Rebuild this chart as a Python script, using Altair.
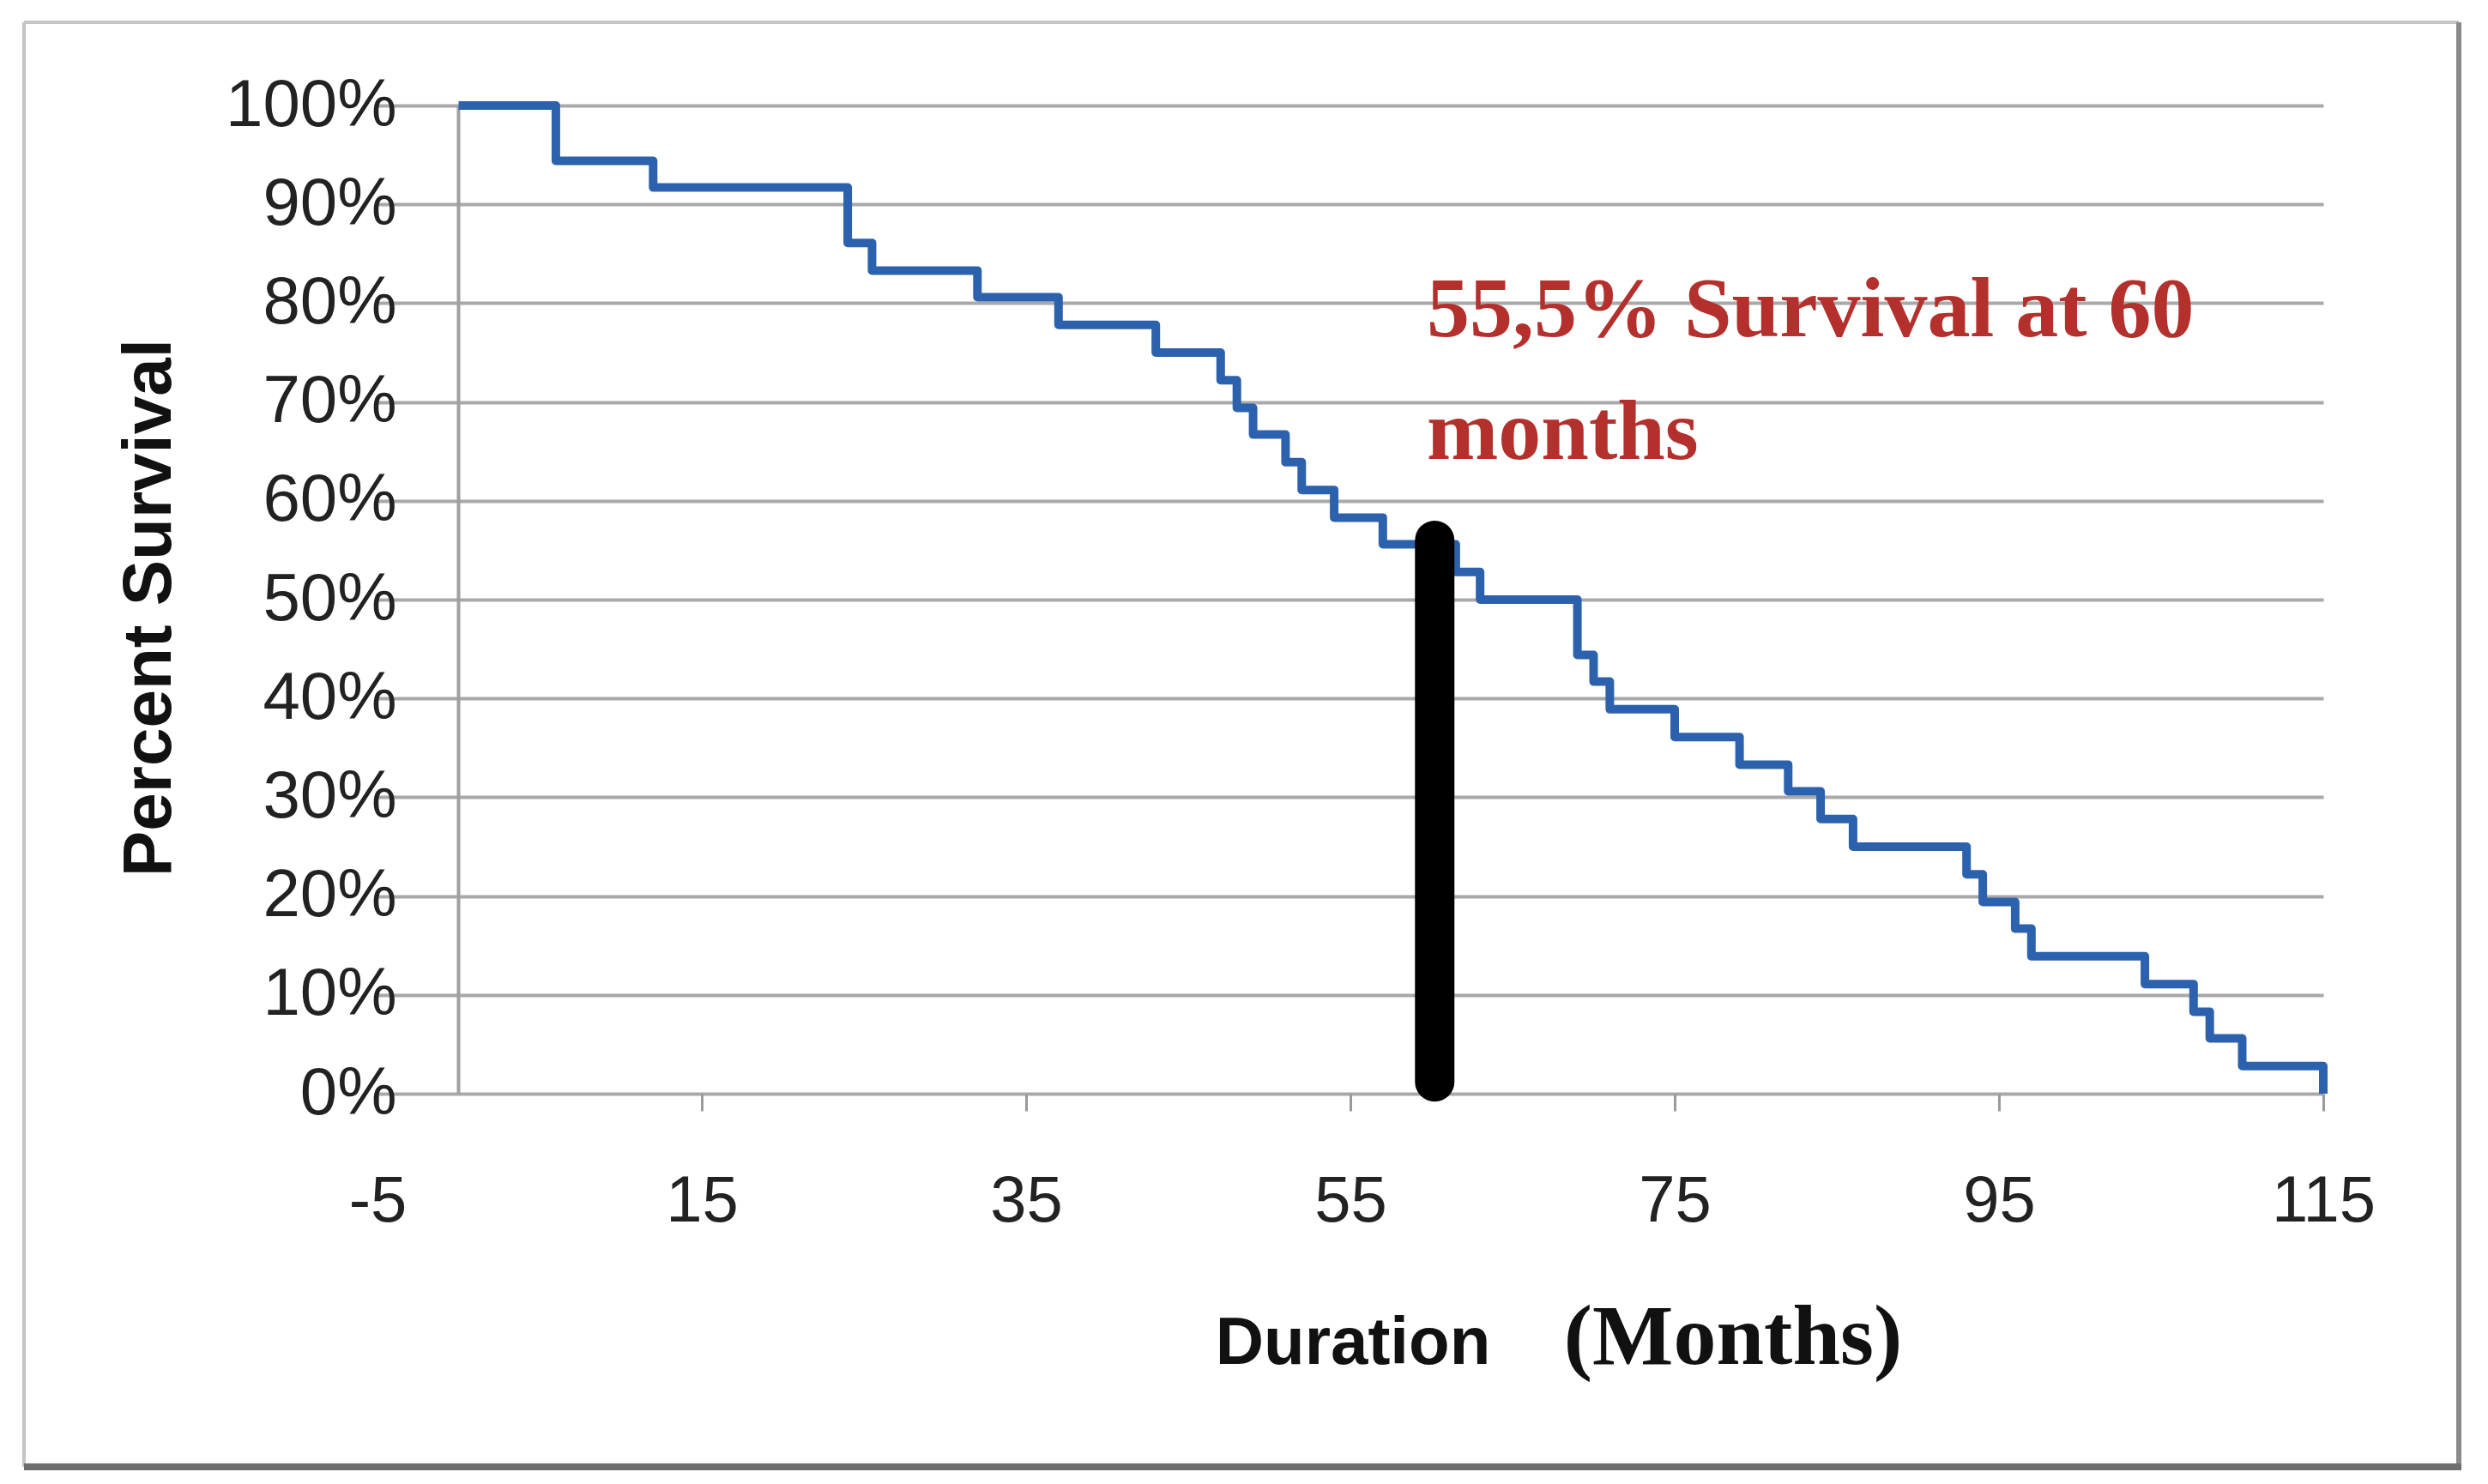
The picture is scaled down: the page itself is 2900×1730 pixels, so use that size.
import altair as alt
import pandas as pd

# Kaplan-Meier style survival curve
months = [0, 6, 12, 24, 25.5, 32, 37, 43, 47, 48, 49, 51, 52, 54, 57, 61.5, 63,
          69, 70, 71, 75, 79, 82, 84, 86, 93, 94, 96, 97, 104, 107, 108, 110, 115]
survival_pct = [100, 94.4, 91.7, 86.1, 83.3, 80.6, 77.8, 75.0, 72.2, 69.4, 66.7,
                63.9, 61.1, 58.3, 55.6, 52.8, 50.0, 44.4, 41.7, 38.9, 36.1, 33.3,
                30.6, 27.8, 25.0, 22.2, 19.4, 16.7, 13.9, 11.1, 8.3, 5.6, 2.8, 0]

x_ticks = [-5, 15, 35, 55, 75, 95, 115]
y_ticks = [0, 0.1, 0.2, 0.3, 0.4, 0.5, 0.6, 0.7, 0.8, 0.9, 1.0]

marker_month = [60.2]
marker_low = [0.012]
marker_high = [0.56]

note_lines = ["55,5% Survival at 60", "months"]
x_title_parts = ["Duration", "(Months)"]

df = pd.DataFrame({"month": months, "survival": [v / 100 for v in survival_pct]})
marker_df = pd.DataFrame({"month": marker_month, "lo": marker_low, "hi": marker_high})

W, H = 2268, 1152
SANS = "Liberation Sans"

x_scale = alt.Scale(domain=[-5, 115], nice=False, zero=False)
y_scale = alt.Scale(domain=[0, 1], nice=False)

line = alt.Chart(df).mark_line(
    interpolate="step-after", color="#2c62ad", strokeWidth=10, strokeJoin="round"
).encode(
    x=alt.X("month:Q", scale=x_scale, title=None,
            axis=alt.Axis(values=x_ticks, labelExpr="datum.value + ''",
                          grid=False, domain=False,
                          ticks=True, tickSize=20, tickWidth=3, tickColor="#9a9a9a",
                          labelFont=SANS, labelFontSize=76,
                          labelColor="#222222", labelPadding=68,
                          labelBaseline="top", labelFlush=False, labelLimit=0)),
    y=alt.Y("survival:Q", scale=y_scale, title="Percent Survival",
            axis=alt.Axis(values=y_ticks, format=".0%", grid=True,
                          gridColor="#a9a9a9", gridWidth=4, domain=False,
                          ticks=False, tickSize=0,
                          labelFont=SANS, labelFontSize=78,
                          labelColor="#222222", labelPadding=-22,
                          labelFlush=False, labelLimit=0,
                          titleFont=SANS,
                          titleFontSize=80, titleFontWeight="bold",
                          titleColor="#111111", titleAngle=270,
                          titleX=-266, titleY=585, titleAlign="center",
                          titleBaseline="middle")),
)

y_axis_line = alt.Chart(pd.DataFrame({"x0": [0], "y0": [0], "y1": [1]})).mark_rule(
    color="#a0a0a0", strokeWidth=4
).encode(x="x0:Q", y="y0:Q", y2="y1:Q")

marker = alt.Chart(marker_df).mark_rule(
    color="#000000", strokeWidth=46, strokeCap="round"
).encode(x="month:Q", y="lo:Q", y2="hi:Q")

note1 = alt.Chart(pd.DataFrame({"t": [note_lines[0]]})).mark_text(
    font="Liberation Serif", fontSize=100, fontWeight="bold", color="#b3302c",
    align="left", baseline="alphabetic"
).encode(x=alt.value(1223), y=alt.value(269), text="t:N")

note2 = alt.Chart(pd.DataFrame({"t": [note_lines[1]]})).mark_text(
    font="Liberation Serif", fontSize=100, fontWeight="bold", color="#b3302c",
    align="left", baseline="alphabetic"
).encode(x=alt.value(1223), y=alt.value(412), text="t:N")

xt1 = alt.Chart(pd.DataFrame({"t": [x_title_parts[0]]})).mark_text(
    font=SANS, fontSize=78, fontWeight="bold", color="#111111",
    align="center", baseline="alphabetic"
).encode(x=alt.value(1137), y=alt.value(1467), text="t:N")

xt2 = alt.Chart(pd.DataFrame({"t": [x_title_parts[1]]})).mark_text(
    font="Liberation Serif", fontSize=100, fontWeight="bold", color="#111111",
    align="center", baseline="alphabetic"
).encode(x=alt.value(1580), y=alt.value(1467), text="t:N")

# decorative frame around the figure
frame_df = pd.DataFrame({"k": [0]})
frame_top = alt.Chart(frame_df).mark_rule(color="#c4c4c4", strokeWidth=4).encode(
    x=alt.value(-412), x2=alt.value(2426), y=alt.value(-97))
frame_left = alt.Chart(frame_df).mark_rule(color="#c4c4c4", strokeWidth=4).encode(
    x=alt.value(-412), y=alt.value(-97), y2=alt.value(1587))
frame_right = alt.Chart(frame_df).mark_rule(color="#8a8a8a", strokeWidth=6).encode(
    x=alt.value(2426), y=alt.value(-97), y2=alt.value(1587))
frame_bottom = alt.Chart(frame_df).mark_rule(color="#6e6e6e", strokeWidth=8).encode(
    x=alt.value(-412), x2=alt.value(2429), y=alt.value(1587))

chart = alt.layer(
    y_axis_line, line, marker, note1, note2, xt1, xt2,
    frame_top, frame_left, frame_right, frame_bottom
).properties(
    width=W, height=H,
    autosize=alt.AutoSizeParams(type="none"),
    padding={"left": 432, "top": 115, "right": 180, "bottom": 443},
    background="white",
).configure_view(stroke=None)

chart.save("out.html", embed_options={"renderer": "svg", "actions": False})
